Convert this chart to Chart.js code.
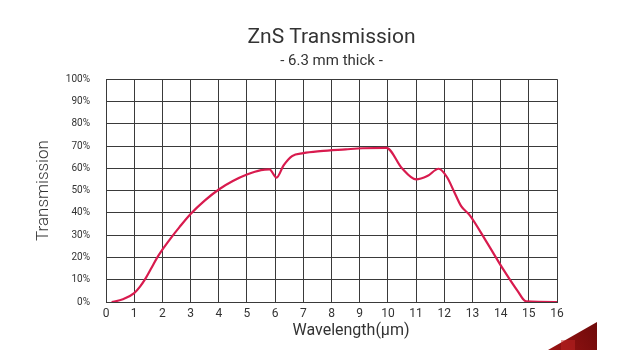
<!DOCTYPE html>
<html>
<head>
<meta charset="utf-8">
<script src="https://cdn.jsdelivr.net/npm/chart.js@4/dist/chart.umd.min.js"></script>
<style>
  html, body { margin: 0; padding: 0; background: #fff; }
  #wrap { width: 630px; height: 350px; }
</style>
</head>
<body>
<div id="wrap"><canvas id="znsChart" width="630" height="350"></canvas></div>
<script>
// ZnS transmission curve, 6.3 mm sample
const wavelength = [0.2, 0.6, 1.0, 1.2, 1.4, 1.6, 1.8, 2.0, 2.3, 2.6, 3.0, 3.5, 4.0, 4.5, 5.0, 5.5, 5.8, 6.05, 6.3, 6.6, 7.0, 7.6, 8.5, 9.1, 9.95, 10.5, 11.0, 11.4, 11.8, 12.1, 12.35, 12.6, 12.9, 13.5, 14.1, 14.6, 14.9, 16];
const transmission = [0, 1.2, 4, 6.8, 10.5, 15, 19.6, 23.5, 28.7, 33.5, 39.5, 45.5, 50.5, 54.3, 57.2, 59.2, 59.5, 55.8, 61.3, 65.5, 66.8, 67.7, 68.5, 69, 69.2, 60, 55, 56.5, 59.8, 56, 49.5, 43, 39, 27, 14.5, 5, 0.3, 0];
const xTicks = [0, 16, 1];      // min, max, step (µm)
const yTicks = [0, 100, 10];    // min, max, step (%)

const textColor = '#333';
const gridColor = '#3a3a3a';

// x axis caption sits a little right of the plot centre
const xCaption = {
  id: 'xCaption',
  afterDraw(chart) {
    const c = chart.ctx;
    c.save();
    c.fillStyle = textColor;
    c.font = 'normal 16px Roboto';
    c.textAlign = 'center';
    c.textBaseline = 'middle';
    c.fillText('Wavelength(µm)', 351, 331);
    c.restore();
  }
};

// dark red corner mark, bottom right
const cornerMark = {
  id: 'cornerMark',
  afterDraw(chart) {
    const c = chart.ctx;
    c.save();
    const g = c.createLinearGradient(548, 350, 597, 322);
    g.addColorStop(0, '#9b1414');
    g.addColorStop(1, '#6e0a0a');
    c.fillStyle = g;
    c.beginPath();
    c.moveTo(548, 350);
    c.lineTo(597, 322);
    c.lineTo(597, 350);
    c.closePath();
    c.fill();
    c.fillStyle = 'rgba(200,40,40,0.45)';
    c.fillRect(561, 340, 14, 10);
    c.restore();
  }
};

const points = wavelength.map((x, i) => ({ x: x, y: transmission[i] }));

new Chart(document.getElementById('znsChart'), {
  type: 'line',
  data: {
    datasets: [{
      data: points,
      borderColor: '#d81b4e',
      borderWidth: 2.2,
      pointRadius: 0,
      fill: false,
      cubicInterpolationMode: 'monotone'
    }]
  },
  options: {
    responsive: false,
    animation: false,
    layout: { padding: { left: 0, right: 73, top: 0, bottom: 0 } },
    plugins: {
      legend: { display: false },
      tooltip: { enabled: false },
      title: {
        display: true,
        fullSize: false,
        text: 'ZnS Transmission',
        color: textColor,
        font: { family: 'Roboto', size: 21, weight: 'normal' },
        padding: { top: 25, bottom: 2 }
      },
      subtitle: {
        display: true,
        fullSize: false,
        text: '- 6.3 mm thick -',
        color: textColor,
        font: { family: 'Roboto', size: 15, weight: 'normal' },
        padding: { top: 0, bottom: 9 }
      }
    },
    scales: {
      x: {
        type: 'linear',
        min: xTicks[0],
        max: xTicks[1],
        ticks: {
          stepSize: xTicks[2],
          color: textColor,
          padding: 5,
          font: { family: 'Roboto', size: 12 }
        },
        grid: { color: gridColor, lineWidth: 1, drawTicks: false },
        border: { color: gridColor, width: 1 },
        afterFit(scale) { scale.height = 48; }
      },
      y: {
        min: yTicks[0],
        max: yTicks[1],
        ticks: {
          stepSize: yTicks[2],
          color: textColor,
          padding: 16,
          font: { family: 'Roboto', size: 10 },
          callback: v => v + '%'
        },
        grid: { color: gridColor, lineWidth: 1, drawTicks: false },
        border: { color: gridColor, width: 1 },
        title: {
          display: true,
          text: 'Transmission',
          color: textColor,
          font: { family: 'Roboto', size: 17, weight: 300 },
          padding: { top: 34, bottom: 0 }
        },
        afterFit(scale) { scale.width = 106; }
      }
    }
  },
  plugins: [xCaption, cornerMark]
});
</script>
</body>
</html>
